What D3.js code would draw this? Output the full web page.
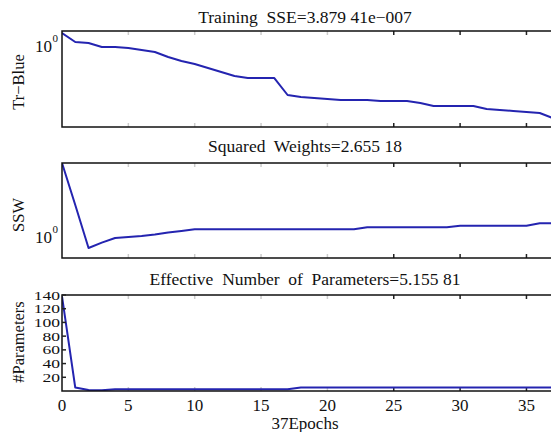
<!DOCTYPE html>
<html><head><meta charset="utf-8">
<script src="https://cdn.jsdelivr.net/npm/d3@7"></script>
<style>
body{margin:0;background:#fff}
svg{display:block}
</style></head>
<body><svg id="c" width="551" height="432"></svg>
<script>
// ---- data ----
const epochs = [0,1,2,3,4,5,6,7,8,9,10,11,12,13,14,15,16,17,18,19,20,21,22,23,24,25,26,27,28,29,30,31,32,33,34,35,36,37];
const trainSSE = [11.3,1.83,1.50,0.668,0.668,0.546,0.364,0.243,0.0886,0.0395,0.0215,0.0096,0.00428,0.00191,0.00127,0.00127,0.00125,
  4.11e-5,2.75e-5,2.24e-5,1.83e-5,1.50e-5,1.49e-5,1.48e-5,1.22e-5,1.21e-5,1.20e-5,8.17e-6,4.46e-6,4.44e-6,4.42e-6,4.40e-6,
  2.43e-6,1.99e-6,1.63e-6,1.33e-6,1.08e-6,3.8794e-7];
const sqWeights = [270,10.8,0.398,0.60,0.857,0.926,1.0,1.12,1.31,1.47,1.67,1.67,1.67,1.67,1.67,1.67,1.67,1.67,1.67,1.67,1.67,1.67,1.67,
  1.95,1.95,1.95,1.95,1.95,1.95,1.95,2.2,2.2,2.2,2.2,2.2,2.2,2.655,2.65518];
const effParams = [138,5,1.5,1.2,2.4,2.4,2.4,2.4,2.4,2.4,2.4,2.4,2.4,2.4,2.4,2.4,2.4,2.4,5.1,5.1,5.1,5.1,5.1,5.1,5.1,5.1,5.1,5.1,5.1,5.1,5.1,5.1,5.1,5.1,5.1,5.1,5.15,5.15581];
const xTicks = [0,5,10,15,20,25,30,35];
const paramTicks = [20,40,60,80,100,120,140];
const titles = ["Training  SSE=3.879 41e\u2212007","Squared  Weights=2.655 18","Effective  Number  of  Parameters=5.155 81"];
const yLabels = ["Tr\u2212Blue","SSW","#Parameters"];
const xLabel = "37Epochs";

// ---- layout ----
const FF = "'Liberation Serif','Times New Roman','DejaVu Serif',serif";
const svg = d3.select("#c");
const T = (sel)=>sel.attr("font-family",FF).attr("fill","#111").attr("xml:space","preserve").style("white-space","pre");
const L = 62, R = 553;
const x = d3.scaleLinear().domain([0,37]).range([L,R]);
const panels = [
  {top:31, bot:127, y:d3.scaleLog().domain([6.4e-8,17]).range([127,31]), data:trainSSE, log:true, title:titles[0], ty:23, ylab:yLabels[0], ylc:82},
  {top:163, bot:258, y:d3.scaleLog().domain([0.185,270]).range([258,163]), data:sqWeights, log:true, title:titles[1], ty:152, ylab:yLabels[1], ylc:215},
  {top:295, bot:391, y:d3.scaleLinear().domain([0,140]).range([391,295]), data:effParams, log:false, title:titles[2], ty:285, ylab:yLabels[2], ylc:342}
];
const blue = "#2424b0";

panels.forEach((p,i)=>{
  const g = svg.append("g");
  const cid = "clip"+i;
  svg.append("clipPath").attr("id",cid).append("rect")
    .attr("x",L).attr("y",p.top).attr("width",R-L).attr("height",p.bot-p.top);
  xTicks.forEach(t=>{
    if(t===0) return;
    const col = t>=25 ? "#222" : "#ccc";
    g.append("line").attr("x1",x(t)).attr("x2",x(t)).attr("y1",p.top).attr("y2",p.top+4).attr("stroke",col).attr("stroke-width",1.5);
    g.append("line").attr("x1",x(t)).attr("x2",x(t)).attr("y1",p.bot).attr("y2",p.bot-4).attr("stroke",col).attr("stroke-width",1.5);
  });
  const line = d3.line().x((d,j)=>x(epochs[j])).y(d=>p.y(d));
  g.append("path").datum(p.data).attr("clip-path",`url(#${cid})`)
    .attr("d",line).attr("fill","none").attr("stroke",blue).attr("stroke-width",2).attr("stroke-linejoin","round");
  g.append("rect").attr("x",L).attr("y",p.top).attr("width",R-L).attr("height",p.bot-p.top)
    .attr("fill","none").attr("stroke","#111").attr("stroke-width",1.5);
  T(svg.append("text")).attr("x",305).attr("y",p.ty).attr("text-anchor","middle")
    .attr("font-size",17.5).text(p.title);
  T(svg.append("text")).attr("transform",`translate(24,${p.ylc}) rotate(-90)`).attr("text-anchor","middle")
    .attr("font-size",16.5).text(p.ylab);
  if(p.log){
    const y1 = p.y(1);
    T(svg.append("text")).attr("x",52).attr("y",y1+7).attr("text-anchor","end").attr("font-size",17).text("10");
    T(svg.append("text")).attr("x",52.5).attr("y",y1-3).attr("font-size",11).text("0");
  } else {
    paramTicks.forEach(v=>{
      T(svg.append("text")).attr("x",0).attr("y",0).attr("text-anchor","end")
        .attr("transform",`translate(60,${p.y(v)+4.5}) scale(1.3,1)`)
        .attr("font-size",13.5).text(v);
      g.append("line").attr("x1",L).attr("x2",L+4).attr("y1",p.y(v)).attr("y2",p.y(v)).attr("stroke","#222").attr("stroke-width",1.5);
    });
  }
});

xTicks.forEach(t=>{
  T(svg.append("text")).attr("x",x(t)).attr("y",411).attr("text-anchor","middle").attr("font-size",17).text(t);
});
T(svg.append("text")).attr("x",305).attr("y",429).attr("text-anchor","middle").attr("font-size",17).text(xLabel);
</script>
</body></html>
